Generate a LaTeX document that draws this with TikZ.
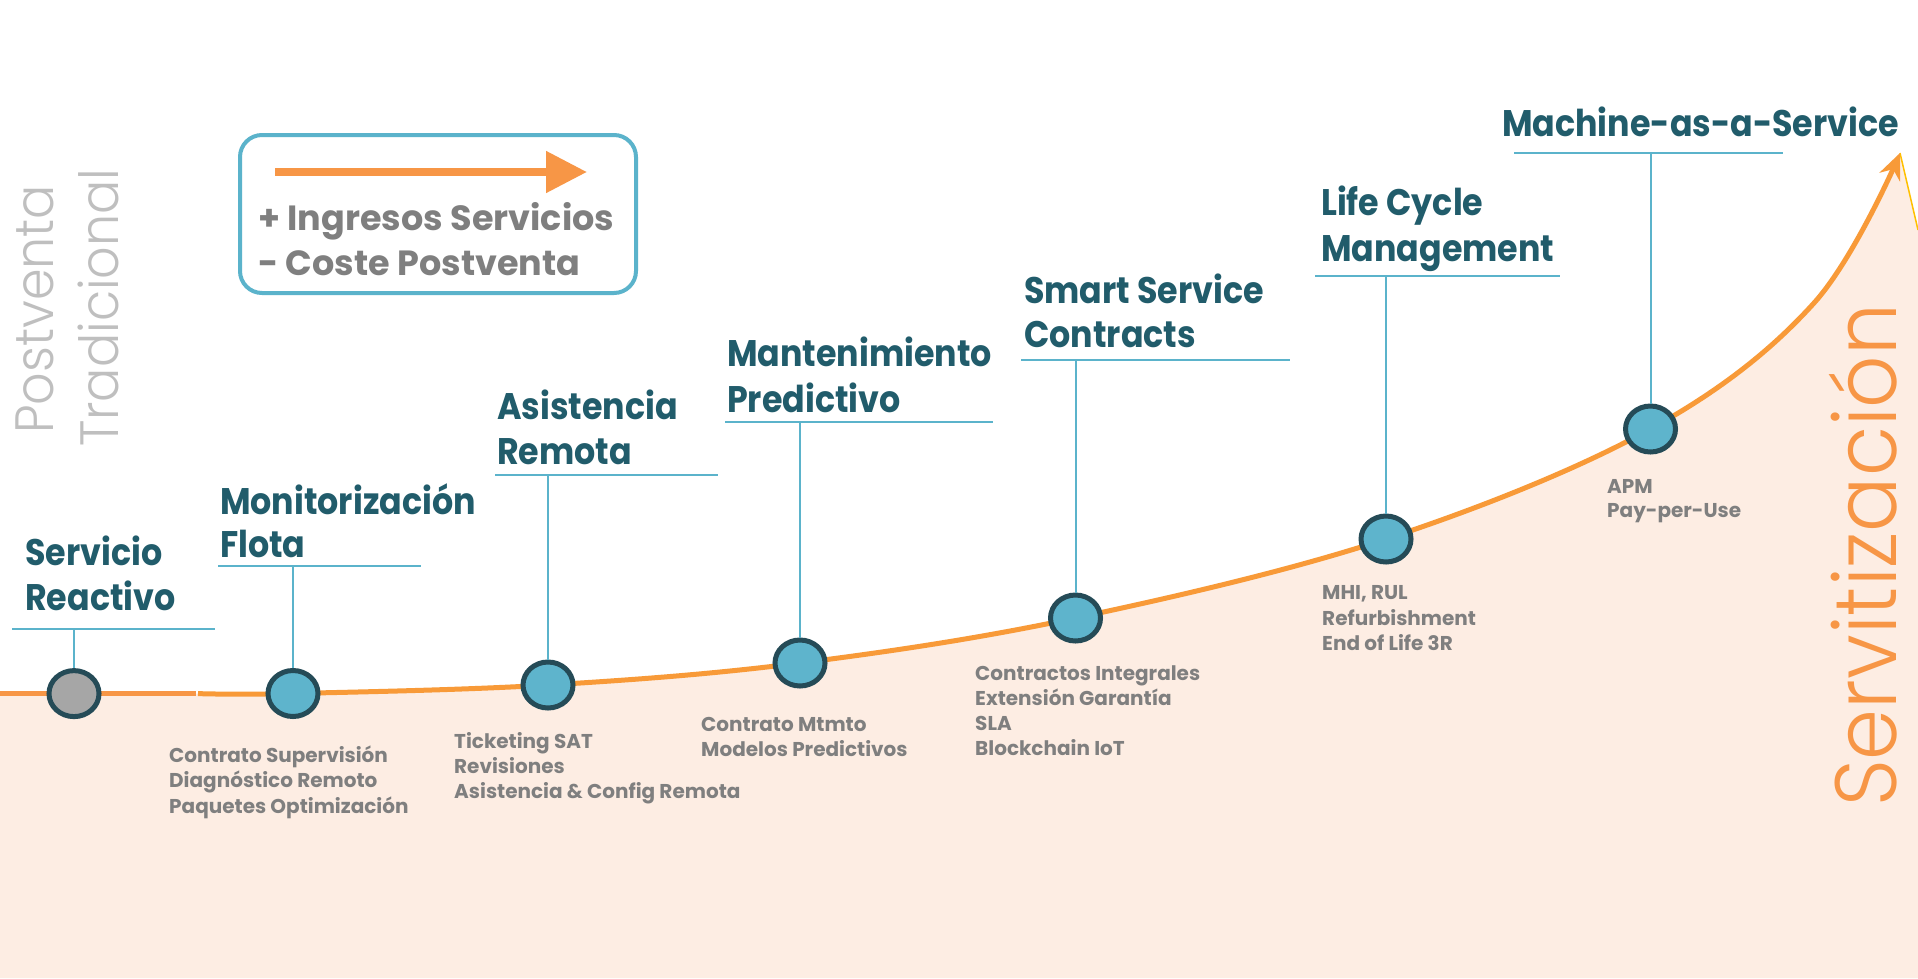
\documentclass[tikz,border=0pt]{standalone}
\usepackage{fontspec}
\setmainfont{Poppins}
\newfontfamily\titlef{Poppins}[FakeStretch=0.9]
\IfFontExistsTF{Poppins Light}
  {\newfontfamily\lightf{Poppins Light}[FakeStretch=0.94]}
  {\newfontfamily\lightf{Poppins}[FakeStretch=0.92]}
\usetikzlibrary{arrows.meta,shapes.geometric}
\definecolor{ttl}{RGB}{33,92,107}
\definecolor{lnblue}{RGB}{91,179,203}
\definecolor{cfill}{RGB}{94,180,204}
\definecolor{cgray}{RGB}{166,166,166}
\definecolor{cborder}{RGB}{37,75,87}
\definecolor{orng}{RGB}{248,154,56}
\definecolor{orng2}{RGB}{247,150,70}
\definecolor{peach}{RGB}{253,237,227}
\definecolor{txtgray}{RGB}{127,127,127}
\definecolor{ltgray}{RGB}{191,191,191}
\definecolor{ylw}{RGB}{255,192,0}
\tikzset{
  titlefont/.style={font=\titlef\fontsize{37}{45}\selectfont\bfseries, text=ttl, inner sep=0pt, anchor=base west},
  subfont/.style={font=\fontsize{20}{25}\selectfont\bfseries, text=txtgray, inner sep=0pt, anchor=base west},
  legfont/.style={font=\fontsize{35}{45}\selectfont\bfseries, text=txtgray, inner sep=0pt, anchor=base west},
  vertfont/.style={text=ltgray, rotate=90, anchor=base west, inner sep=0pt},
  milestone/.style={ellipse, minimum width=50pt, minimum height=46pt, inner sep=0pt, draw=cborder, line width=5pt, fill=cfill},
  conn/.style={draw=lnblue, line width=2pt},
}
\begin{document}
\begin{tikzpicture}[x=1pt,y=-1pt]
\useasboundingbox (0,0) rectangle (1918,978);
\fill[white] (0,0) rectangle (1918,978);
% milestone centres
\coordinate (p1) at (74,693.6);
\coordinate (p2) at (293,693.5);
\coordinate (p3) at (548,685);
\coordinate (p4) at (800,663);
\coordinate (p5) at (1075.5,618);
\coordinate (p6) at (1386,539);
\coordinate (p7) at (1650.5,429);
\coordinate (q1) at (1814,303);
\coordinate (tip) at (1900,153);
\coordinate (s0) at (0,693.6);
\coordinate (s1) at (196,693.6);
\coordinate (s2) at (198,693.6);
\coordinate (r1) at (1918,230);
% fill under curve
\fill[peach] (0,696) -- plot[smooth,tension=0.6] coordinates {(s2) (p2) (p3) (p4) (p5) (p6) (p7) (q1) (tip)} -- (r1) -- (1918,978) -- (0,978) -- cycle;
\draw[ylw, line width=1.5pt] (tip) -- (r1);
% curve
\draw[orng2, line width=5pt] (s0) -- (s1);
\draw[orng, line width=5pt, -{Stealth[length=26pt,width=22pt]}] plot[smooth,tension=0.6] coordinates {(s2) (p2) (p3) (p4) (p5) (p6) (p7) (q1) (tip)};
% horizontal lines
\coordinate (h1a) at (12,629);    \coordinate (h1b) at (215,629);
\coordinate (h2a) at (218,566);   \coordinate (h2b) at (421,566);
\coordinate (h3a) at (495,474.6); \coordinate (h3b) at (718,474.6);
\coordinate (h4a) at (725,422);   \coordinate (h4b) at (993,422);
\coordinate (h5a) at (1021,359.6);\coordinate (h5b) at (1290,359.6);
\coordinate (h6a) at (1315,275.7);\coordinate (h6b) at (1560,275.7);
\coordinate (h7a) at (1514,153);  \coordinate (h7b) at (1783,153);
\foreach \i in {1,...,7} {\draw[conn] (h\i a) -- (h\i b);}
% milestones
\node[milestone, fill=cgray] (c1) at (p1) {};
\node[milestone] (c2) at (p2) {};
\node[milestone] (c3) at (p3) {};
\node[milestone] (c4) at (p4) {};
\node[milestone] (c5) at (p5) {};
\node[milestone] (c6) at (p6) {};
\node[milestone] (c7) at (p7) {};
\foreach \i in {1,...,7} {\draw[conn] (c\i.north) -- (c\i.north |- h\i a);}
% titles
\node[titlefont] (t1a) at (25,565.5) {Servicio};
\node[titlefont] (t1b) at (25,610.5) {Reactivo};
\node[titlefont] (t2a) at (220,514) {Monitorización};
\node[titlefont] (t2b) at (220,557) {Flota};
\node[titlefont] (t3a) at (497,419) {Asistencia};
\node[titlefont] (t3b) at (497,464) {Remota};
\node[titlefont] (t4a) at (727,366.7) {Mantenimiento};
\node[titlefont] (t4b) at (727,412.7) {Predictivo};
\node[titlefont] (t5a) at (1024,303) {Smart Service};
\node[titlefont] (t5b) at (1024,347) {Contracts};
\node[titlefont] (t6a) at (1321,215) {Life Cycle};
\node[titlefont] (t6b) at (1321,261.7) {Management};
\node[titlefont] (t7a) at (1502,136) {Machine-as-a-Service};
% sub labels
\node[subfont] (s2a) at (169,762) {Contrato Supervisión};
\node[subfont] (s2b) at (169,787.5) {Diagnóstico Remoto};
\node[subfont] (s2c) at (169,813) {Paquetes Optimización};
\node[subfont] (s3a) at (454,748) {Ticketing SAT};
\node[subfont] (s3b) at (454,773) {Revisiones};
\node[subfont] (s3c) at (454,798.5) {Asistencia \& Config Remota};
\node[subfont] (s4a) at (701,731) {Contrato Mtmto};
\node[subfont] (s4b) at (701,756) {Modelos Predictivos};
\node[subfont] (s5a) at (975,680) {Contractos Integrales};
\node[subfont] (s5b) at (975,705) {Extensión Garantía};
\node[subfont] (s5c) at (975,730) {SLA};
\node[subfont] (s5d) at (975,755) {Blockchain IoT};
\node[subfont] (s6a) at (1322,599) {MHI, RUL};
\node[subfont] (s6b) at (1322,625) {Refurbishment};
\node[subfont] (s6c) at (1322,650) {End of Life 3R};
\node[subfont] (s7a) at (1607,493) {APM};
\node[subfont] (s7b) at (1607,517) {Pay-per-Use};
% legend
\node[draw=lnblue, line width=4pt, rounded corners=22pt, minimum width=396pt, minimum height=158pt, inner sep=0pt] (legend) at (438,214) {};
\coordinate (la) at (275,172);
\coordinate (lb) at (587,172);
\draw[orng2, line width=8pt, -{Triangle[length=41pt,width=40pt]}] (la) -- (lb);
\node[legfont] (l1) at (258,230) {+ Ingresos Servicios};
\node[legfont] (l2) at (258,275) {- Coste Postventa};
% vertical texts
\node[vertfont, font=\lightf\fontsize{54}{60}\selectfont] (v1) at (53,434) {Postventa};
\node[vertfont, font=\lightf\fontsize{54}{60}\selectfont] (v2) at (118,447) {Tradicional};
\node[vertfont, font=\lightf\fontsize{87}{90}\selectfont, text=orng2] (v3) at (1896,807) {Servitización};
\end{tikzpicture}
\end{document}
